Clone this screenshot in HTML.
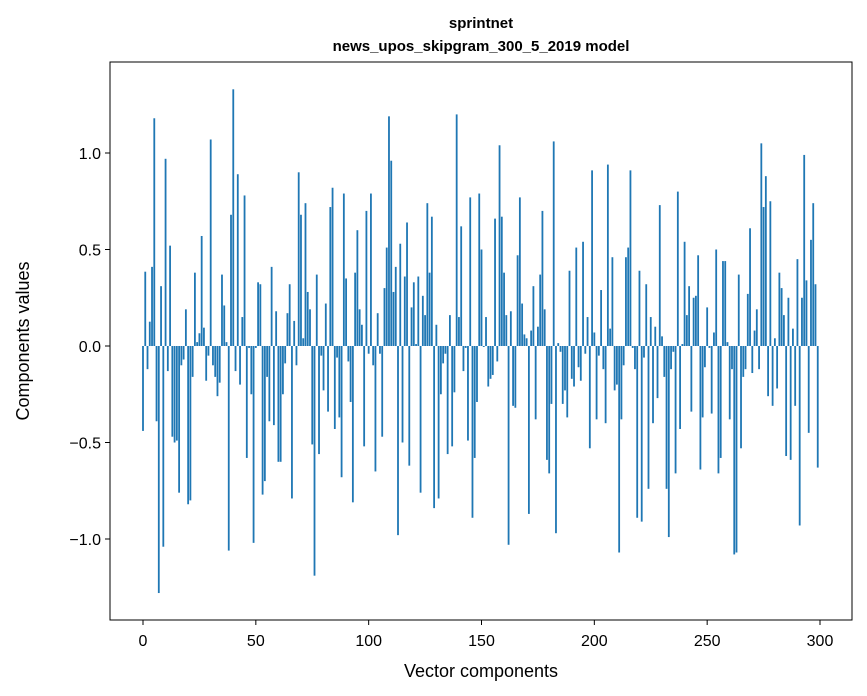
<!DOCTYPE html>
<html><head><meta charset="utf-8"><style>
html,body{margin:0;padding:0;background:#fff;}
svg{display:block;font-family:"Liberation Sans","DejaVu Sans",sans-serif;}
</style></head><body>
<svg id="chart" width="867" height="696" viewBox="0 0 867 696">
<text x="481" y="28" text-anchor="middle" font-size="15" font-weight="bold">sprintnet</text>
<text x="481" y="51" text-anchor="middle" font-size="15" font-weight="bold">news_upos_skipgram_300_5_2019 model</text>
<g id="bars"></g>
<g id="xticks"></g>
<g id="yticks"></g>
<rect x="110" y="62" width="742" height="558" fill="none" stroke="#000" stroke-width="1"/>
<text x="481" y="677" text-anchor="middle" font-size="18">Vector components</text>
<text x="29" y="341" text-anchor="middle" font-size="18" transform="rotate(-90 29 341)">Components values</text>
</svg>
<script>
const values = [
-0.44,0.385,-0.12,0.126,0.41,1.18,-0.39,-1.28,0.31,-1.04,
0.97,-0.13,0.52,-0.47,-0.5,-0.49,-0.76,-0.1,-0.07,0.19,
-0.82,-0.8,-0.16,0.38,0.02,0.066,0.57,0.095,-0.18,-0.05,
1.07,-0.1,-0.16,-0.26,-0.19,0.37,0.21,0.02,-1.06,0.68,
1.33,-0.13,0.89,-0.2,0.15,0.78,-0.58,-0.01,-0.25,-1.02,
-0.01,0.33,0.32,-0.77,-0.70,-0.16,-0.39,0.41,-0.41,0.18,
-0.6,-0.6,-0.25,-0.09,0.17,0.32,-0.79,0.13,-0.1,0.9,
0.68,0.04,0.74,0.28,0.19,-0.51,-1.19,0.37,-0.56,-0.05,
-0.23,0.22,-0.34,0.72,0.82,-0.43,-0.06,-0.37,-0.68,0.79,
0.35,-0.08,-0.29,-0.81,0.38,0.6,0.19,0.11,-0.52,0.7,
-0.04,0.79,-0.1,-0.65,0.17,-0.04,-0.47,0.3,0.51,1.19,
0.96,0.28,0.41,-0.98,0.53,-0.5,0.36,0.64,-0.62,0.2,
0.33,0.01,0.36,-0.76,0.26,0.16,0.74,0.38,0.67,-0.84,
0.11,-0.79,-0.25,-0.09,-0.04,-0.56,0.16,-0.52,-0.24,1.2,
0.15,0.62,-0.13,-0.01,-0.49,0.77,-0.89,-0.58,-0.29,0.79,
0.5,-0.005,0.15,-0.21,-0.17,-0.15,0.66,-0.08,1.04,0.67,
0.38,0.16,-1.03,0.18,-0.31,-0.32,0.47,0.77,0.22,0.06,
0.04,-0.87,0.08,0.31,-0.38,0.1,0.37,0.7,0.19,-0.59,
-0.66,-0.3,1.06,-0.97,0.015,-0.03,-0.3,-0.23,-0.37,0.39,
-0.17,-0.21,0.51,-0.11,-0.18,0.54,-0.04,0.15,-0.53,0.91,
0.07,-0.38,-0.05,0.29,-0.12,-0.4,0.94,0.09,0.46,-0.23,
-0.2,-1.07,-0.38,-0.1,0.46,0.51,0.91,-0.01,-0.12,-0.89,
0.39,-0.91,-0.06,0.32,-0.74,0.15,-0.4,0.1,-0.27,0.73,
0.05,-0.16,-0.74,-0.99,-0.12,-0.03,-0.66,0.8,-0.43,0.01,
0.54,0.16,0.31,-0.34,0.25,0.26,0.47,-0.64,-0.37,-0.11,
0.2,-0.01,-0.35,0.07,0.5,-0.66,-0.58,0.44,0.44,0.02,
-0.38,-0.12,-1.08,-1.07,0.37,-0.53,-0.16,-0.12,0.27,0.61,
-0.14,0.08,0.19,-0.12,1.05,0.72,0.88,-0.26,0.75,-0.31,
0.04,-0.22,0.38,0.3,0.16,-0.57,0.25,-0.59,0.09,-0.31,
0.45,-0.93,0.25,0.99,0.34,-0.45,0.55,0.74,0.32,-0.63
];
const xTickValues = [0,50,100,150,200,250,300];
const yTickValues = [-1.0,-0.5,0.0,0.5,1.0];
const yTickLabels = ["\u22121.0","\u22120.5","0.0","0.5","1.0"];

const NS = "http://www.w3.org/2000/svg";
const xScale = v => 143 + v * (677/300);
const yScale = v => 346 - v * 193;
const barW = 0.8 * (677/300);

const gb = document.getElementById('bars');
values.forEach((v, i) => {
  const r = document.createElementNS(NS, 'rect');
  const y0 = yScale(0), y1 = yScale(v);
  r.setAttribute('x', xScale(i) - barW/2);
  r.setAttribute('y', Math.min(y0, y1));
  r.setAttribute('width', barW);
  r.setAttribute('height', Math.max(Math.abs(y1 - y0), 0.3));
  r.setAttribute('fill', '#1f77b4');
  
  
  gb.appendChild(r);
});

const gx = document.getElementById('xticks');
xTickValues.forEach(t => {
  const x = xScale(t);
  const l = document.createElementNS(NS, 'line');
  l.setAttribute('x1', x); l.setAttribute('x2', x);
  l.setAttribute('y1', 620); l.setAttribute('y2', 625);
  l.setAttribute('stroke', '#000');
  
  
  gx.appendChild(l);
  const tx = document.createElementNS(NS, 'text');
  tx.setAttribute('x', x); tx.setAttribute('y', 646);
  tx.setAttribute('text-anchor', 'middle');
  tx.setAttribute('font-size', '16');
  tx.textContent = String(t);
  
  
  gx.appendChild(tx);
});

const gy = document.getElementById('yticks');
yTickValues.forEach((t, k) => {
  const y = yScale(t);
  const l = document.createElementNS(NS, 'line');
  l.setAttribute('x1', 105); l.setAttribute('x2', 110);
  l.setAttribute('y1', y); l.setAttribute('y2', y);
  l.setAttribute('stroke', '#000');
  
  
  gy.appendChild(l);
  const tx = document.createElementNS(NS, 'text');
  tx.setAttribute('x', 101); tx.setAttribute('y', y + 6);
  tx.setAttribute('text-anchor', 'end');
  tx.setAttribute('font-size', '16');
  tx.textContent = yTickLabels[k];
  
  
  gy.appendChild(tx);
});
</script>
</body></html>
